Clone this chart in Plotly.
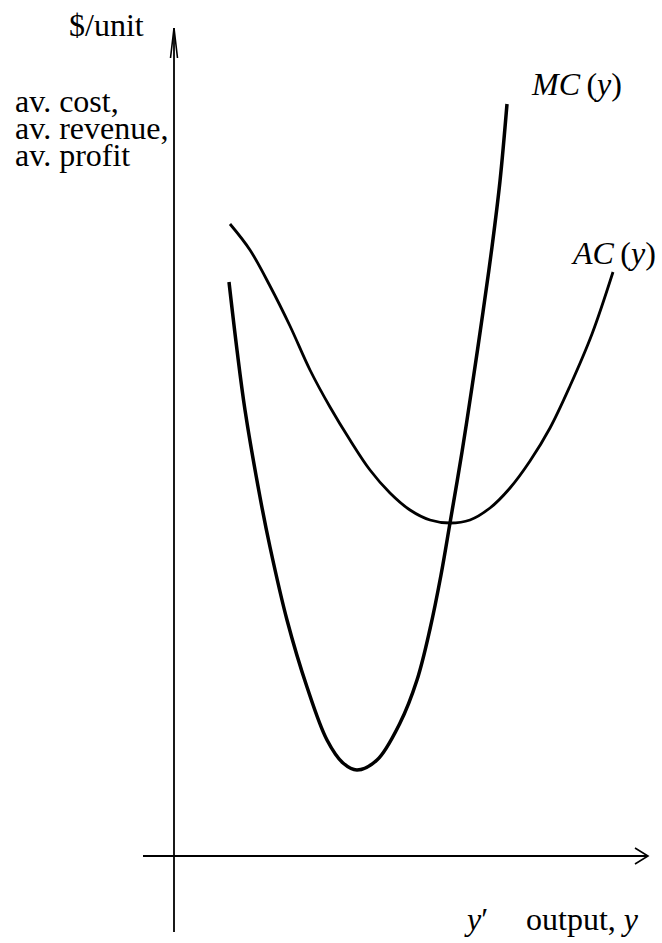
import plotly.graph_objects as go

# Output quantity (horizontal) and $/unit (vertical), origin where the axes cross
mc_output = [55, 63, 71, 86, 96, 113, 133, 153, 169, 183, 203, 226, 243, 256, 267, 276, 288, 298, 309, 318, 326, 333]
mc_cost = [574, 506, 446, 359, 309, 236, 169, 116, 93, 86, 96, 133, 176, 227, 281, 333, 404, 469, 544, 609, 675, 752]

ac_output = [56, 76, 96, 116, 136, 156, 176, 196, 216, 236, 256, 276, 296, 316, 336, 356, 376, 396, 418, 439]
ac_cost = [632, 606, 570, 530, 486, 449, 416, 386, 363, 346, 336, 333, 336, 348, 368, 395, 428, 470, 522, 584]

# Axis extents
y_axis_bottom, y_axis_top = -76, 828
x_axis_left, x_axis_right = -31, 474

W, H = 662, 943
X0, Y0 = 174, 856  # pixel position of the origin
FONT = "Liberation Serif, Times New Roman, serif"
SIZE = 32

fig = go.Figure()

# vertical axis with open arrowhead
fig.add_trace(go.Scatter(x=[0, 0], y=[y_axis_bottom, y_axis_top], mode="lines",
                         line=dict(color="black", width=1.8), hoverinfo="skip"))
fig.add_trace(go.Scatter(x=[-3.5, 0, 3.5], y=[y_axis_top - 30, y_axis_top, y_axis_top - 30], mode="lines",
                         line=dict(color="black", width=1.6), hoverinfo="skip"))
# horizontal axis with open arrowhead
fig.add_trace(go.Scatter(x=[x_axis_left, x_axis_right], y=[0, 0], mode="lines",
                         line=dict(color="black", width=1.8), hoverinfo="skip"))
fig.add_trace(go.Scatter(x=[x_axis_right - 13, x_axis_right, x_axis_right - 13], y=[8, 0, -8], mode="lines",
                         line=dict(color="black", width=1.6), hoverinfo="skip"))

# cost curves
fig.add_trace(go.Scatter(x=mc_output, y=mc_cost, mode="lines",
                         line=dict(color="black", width=3.5, shape="spline", smoothing=1.0), name="MC"))
fig.add_trace(go.Scatter(x=ac_output, y=ac_cost, mode="lines",
                         line=dict(color="black", width=2.8, shape="spline", smoothing=1.0), name="AC"))


def label(text, px, py, anchor="left"):
    fig.add_annotation(x=px - X0, y=Y0 - py, xref="x", yref="y", text=text, showarrow=False,
                       xanchor=anchor, yanchor="middle", font=dict(family=FONT, size=SIZE, color="black"))


label("$/unit", 67, 25)
label("av. cost,", 13, 101)
label("av. revenue,", 13, 128)
label("av. profit", 13, 155)
label("<i>MC</i>\u2009(<i>y</i>)", 529, 84)
label("<i>AC</i>\u2009(<i>y</i>)", 569, 253)
label("<i>y</i>\u2032", 462, 919)
label("output, <i>y</i>", 524, 919)

fig.update_layout(
    width=W, height=H, margin=dict(l=0, r=0, t=0, b=0),
    paper_bgcolor="white", plot_bgcolor="white", showlegend=False,
    xaxis=dict(range=[-X0, W - X0], visible=False, fixedrange=True),
    yaxis=dict(range=[Y0 - H, Y0], visible=False, fixedrange=True),
)

fig.write_html("out.html")
